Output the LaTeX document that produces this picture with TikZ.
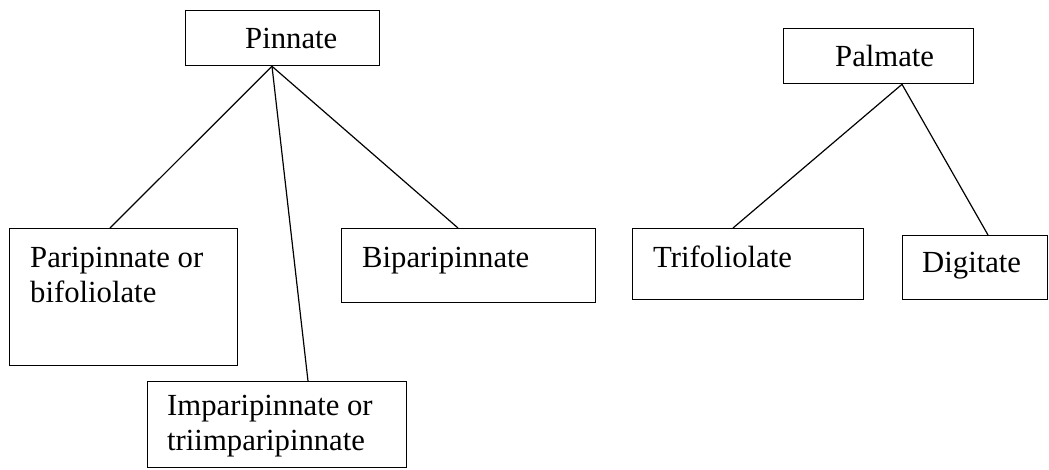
\documentclass[tikz,border=0pt]{standalone}
\usepackage{fontspec}
\setmainfont{Liberation Serif}
\usetikzlibrary{calc}
\begin{document}
\begin{tikzpicture}[x=1pt,y=-1pt,
  box/.style={draw, line width=1.3pt, rectangle, anchor=north west, inner sep=0pt},
  lbl/.style={anchor=base west, inner sep=0pt, align=left,
              font=\fontsize{30.7}{34.5}\selectfont},
  link/.style={line width=1.2pt}]
\useasboundingbox (0,0) rectangle (1049,469);

% frames of the two hierarchies
\node[box, minimum width=194pt, minimum height=55pt] (pin) at (185,10) {};
\node[box, minimum width=228pt, minimum height=137pt] (pari) at (9,228) {};
\node[box, minimum width=254pt, minimum height=74pt] (bipa) at (341,228) {};
\node[box, minimum width=259pt, minimum height=86pt] (impa) at (147,381) {};
\node[box, minimum width=190pt, minimum height=55pt] (palm) at (783,28) {};
\node[box, minimum width=231pt, minimum height=71pt] (trif) at (632,228) {};
\node[box, minimum width=145pt, minimum height=64pt] (digi) at (902,235) {};

% captions (a two-line caption is placed by the baseline of its last line)
\node[lbl] (tpin) at ($(pin.north west)+(60,38)$) {Pinnate};
\node[lbl] (tpari) at ($(pari.north west)+(21,74)$) {Paripinnate or\\bifoliolate};
\node[lbl] (tbipa) at ($(bipa.north west)+(21,39)$) {Biparipinnate};
\node[lbl] (timpa) at ($(impa.north west)+(20,69)$) {Imparipinnate or\\triimparipinnate};
\node[lbl] (tpalm) at ($(palm.north west)+(52,38)$) {Palmate};
\node[lbl] (ttrif) at ($(trif.north west)+(21,39)$) {Trifoliolate};
\node[lbl] (tdigi) at ($(digi.north west)+(20,37)$) {Digitate};

% connectors
\coordinate (pinfoot) at ($(pin.south west)+(87,0)$);
\coordinate (palmfoot) at ($(palm.south west)+(119,0)$);
\draw[link] (pinfoot) -- ($(pari.north west)+(101,0)$);
\draw[link] (pinfoot) -- ($(impa.north west)+(161,0)$);
\draw[link] (pinfoot) -- ($(bipa.north west)+(117,0)$);
\draw[link] (palmfoot) -- ($(trif.north west)+(101,0)$);
\draw[link] (palmfoot) -- ($(digi.north west)+(86,0)$);
\end{tikzpicture}
\end{document}
